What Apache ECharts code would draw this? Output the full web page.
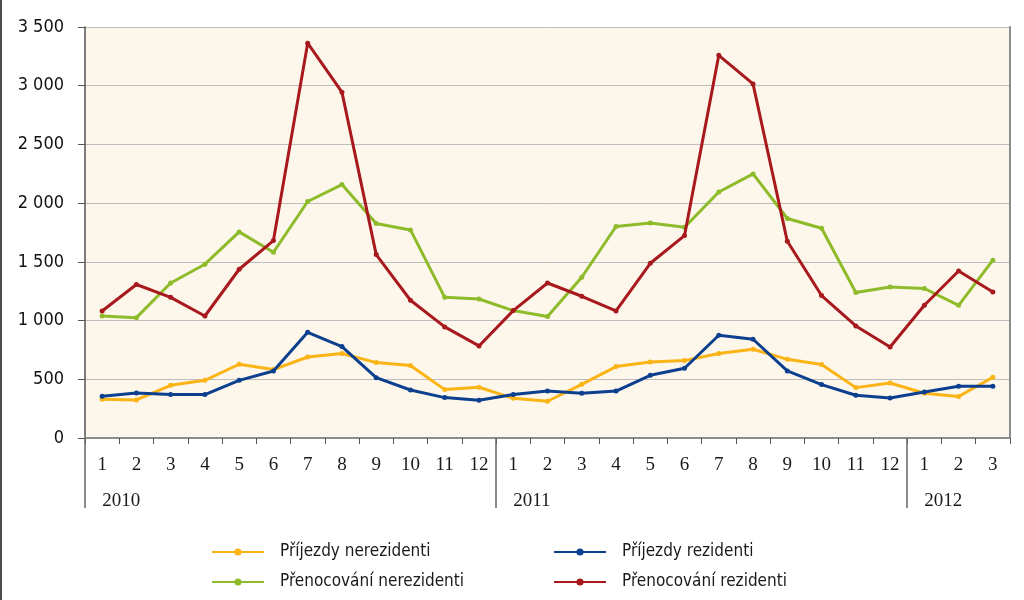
<!DOCTYPE html>
<html>
<head>
<meta charset="utf-8">
<script src="https://cdn.jsdelivr.net/npm/echarts@6/dist/echarts.min.js"></script>
<style>
html,body{margin:0;padding:0;background:#fff;}
#wrap{position:relative;width:1024px;height:600px;}
#chart{width:1024px;height:600px;}
#edge{position:absolute;left:0;top:0;width:2px;height:600px;background:#4d4d4d;}
</style>
</head>
<body>
<div id="wrap"><div id="chart"></div><div id="edge"></div></div>
<script>
const months = ['1','2','3','4','5','6','7','8','9','10','11','12','1','2','3','4','5','6','7','8','9','10','11','12','1','2','3'];
const years = ['2010','2010','2010','2010','2010','2010','2010','2010','2010','2010','2010','2010','2011','2011','2011','2011','2011','2011','2011','2011','2011','2011','2011','2011','2012','2012','2012'];
const yTicks = [0, 500, 1000, 1500, 2000, 2500, 3000, 3500];

const seriesNames = ['Příjezdy nerezidenti','Přenocování nerezidenti','Příjezdy rezidenti','Přenocování rezidenti'];
const prijezdyNerezidenti = [330,324,449,491,628,583,690,719,642,617,412,432, 338,313,457,608,647,659,719,756,670,625,429,468, 381,353,517];
const prenocovaniNerezidenti = [1039,1025,1320,1480,1755,1582,2014,2158,1826,1772,1198,1184, 1085,1034,1369,1801,1831,1795,2095,2249,1869,1786,1239,1286, 1273,1130,1514];
const prijezdyRezidenti = [355,383,370,370,491,571,900,779,514,409,344,321, 370,400,381,400,534,594,875,841,571,455,364,341, 392,440,440];
const prenocovaniRezidenti = [1082,1307,1198,1039,1437,1681,3362,2945,1562,1173,946,784, 1085,1320,1207,1082,1488,1724,3259,3015,1675,1213,954,775, 1130,1422,1244];

const colors = ['#FBB416','#8DBB2A','#0D3F8F','#A8191E'];
const dataSets = [prijezdyNerezidenti, prenocovaniNerezidenti, prijezdyRezidenti, prenocovaniRezidenti];

const n = months.length;
const yearsRev = years.slice().reverse();
// reversed index r -> original index n-1-r
const isYearEnd = r => { const i = n - 1 - r; return i + 1 < n && years[i] !== years[i + 1]; };
const isYearStart = r => { const i = n - 1 - r; return i === 0 || years[i] !== years[i - 1]; };

const narrow = "'Liberation Sans Narrow','DejaVu Sans Condensed','Liberation Sans',sans-serif";
const serif = "'Liberation Serif','DejaVu Serif',serif";

const legendBase = {orient: 'vertical', top: 542, height: 80, padding: 0, itemWidth: 52, itemHeight: 9, itemGap: 10,
  textStyle: {fontFamily: narrow, fontSize: 17, color: '#1a1a1a', padding: [0,0,0,11], lineHeight: 20}};

const chart = echarts.init(document.getElementById('chart'), null, {renderer:'canvas'});
chart.setOption({
  animation: false,
  backgroundColor: '#ffffff',
  grid: {left: 85, right: 14, top: 27, bottom: 162, show: true, backgroundColor: '#FDF6EB', borderWidth: 0, containLabel: false},
  legend: [
    Object.assign({}, legendBase, {data: [seriesNames[0], seriesNames[1]], left: 211}),
    Object.assign({}, legendBase, {data: [seriesNames[2], seriesNames[3]], left: 553})
  ],
  xAxis: [
    {type: 'category', data: months, position: 'bottom', boundaryGap: true,
     axisLine: {show: true, lineStyle: {color: '#8c8c8c', width: 2}},
     axisTick: {show: true, interval: 0, length: 6, lineStyle: {color: '#555', width: 1}},
     axisLabel: {interval: 0, margin: 18, fontFamily: serif, fontSize: 19, color: '#1a1a1a'},
     splitLine: {show: false}},
    {type: 'category', data: yearsRev, inverse: true, position: 'bottom', boundaryGap: true,
     axisLine: {show: false},
     axisTick: {show: true, interval: (r) => isYearEnd(r), length: 70, lineStyle: {color: '#666', width: 1.5}},
     axisLabel: {interval: (r) => isYearStart(r), align: 'left', margin: 54, fontFamily: serif, fontSize: 19, color: '#1a1a1a'},
     splitLine: {show: false}}
  ],
  yAxis: [
    {type: 'value', min: yTicks[0], max: yTicks[yTicks.length - 1], interval: 500,
     axisLine: {show: true, lineStyle: {color: '#555', width: 1.5}},
     axisTick: {show: true, length: 7, lineStyle: {color: '#555'}},
     axisLabel: {margin: 21, fontFamily: narrow, fontSize: 18, color: '#111',
                 formatter: v => String(v).replace(/\B(?=(\d{3})+(?!\d))/g, ' ')},
     splitLine: {show: true, lineStyle: {color: '#bdbdbd', width: 1}}},
    {type: 'value', position: 'right', min: yTicks[0], max: yTicks[yTicks.length - 1], interval: 500,
     axisLine: {show: true, lineStyle: {color: '#8c8c8c', width: 2}},
     axisTick: {show: false}, axisLabel: {show: false}, splitLine: {show: false}}
  ],
  series: dataSets.map((d, k) => ({
    name: seriesNames[k], type: 'line', data: d, xAxisIndex: 0, yAxisIndex: 0,
    symbol: 'circle', symbolSize: 5, smooth: false,
    lineStyle: {color: colors[k], width: 3}, itemStyle: {color: colors[k]},
    z: [2, 3, 4, 5][k]
  }))
});
</script>
</body>
</html>
